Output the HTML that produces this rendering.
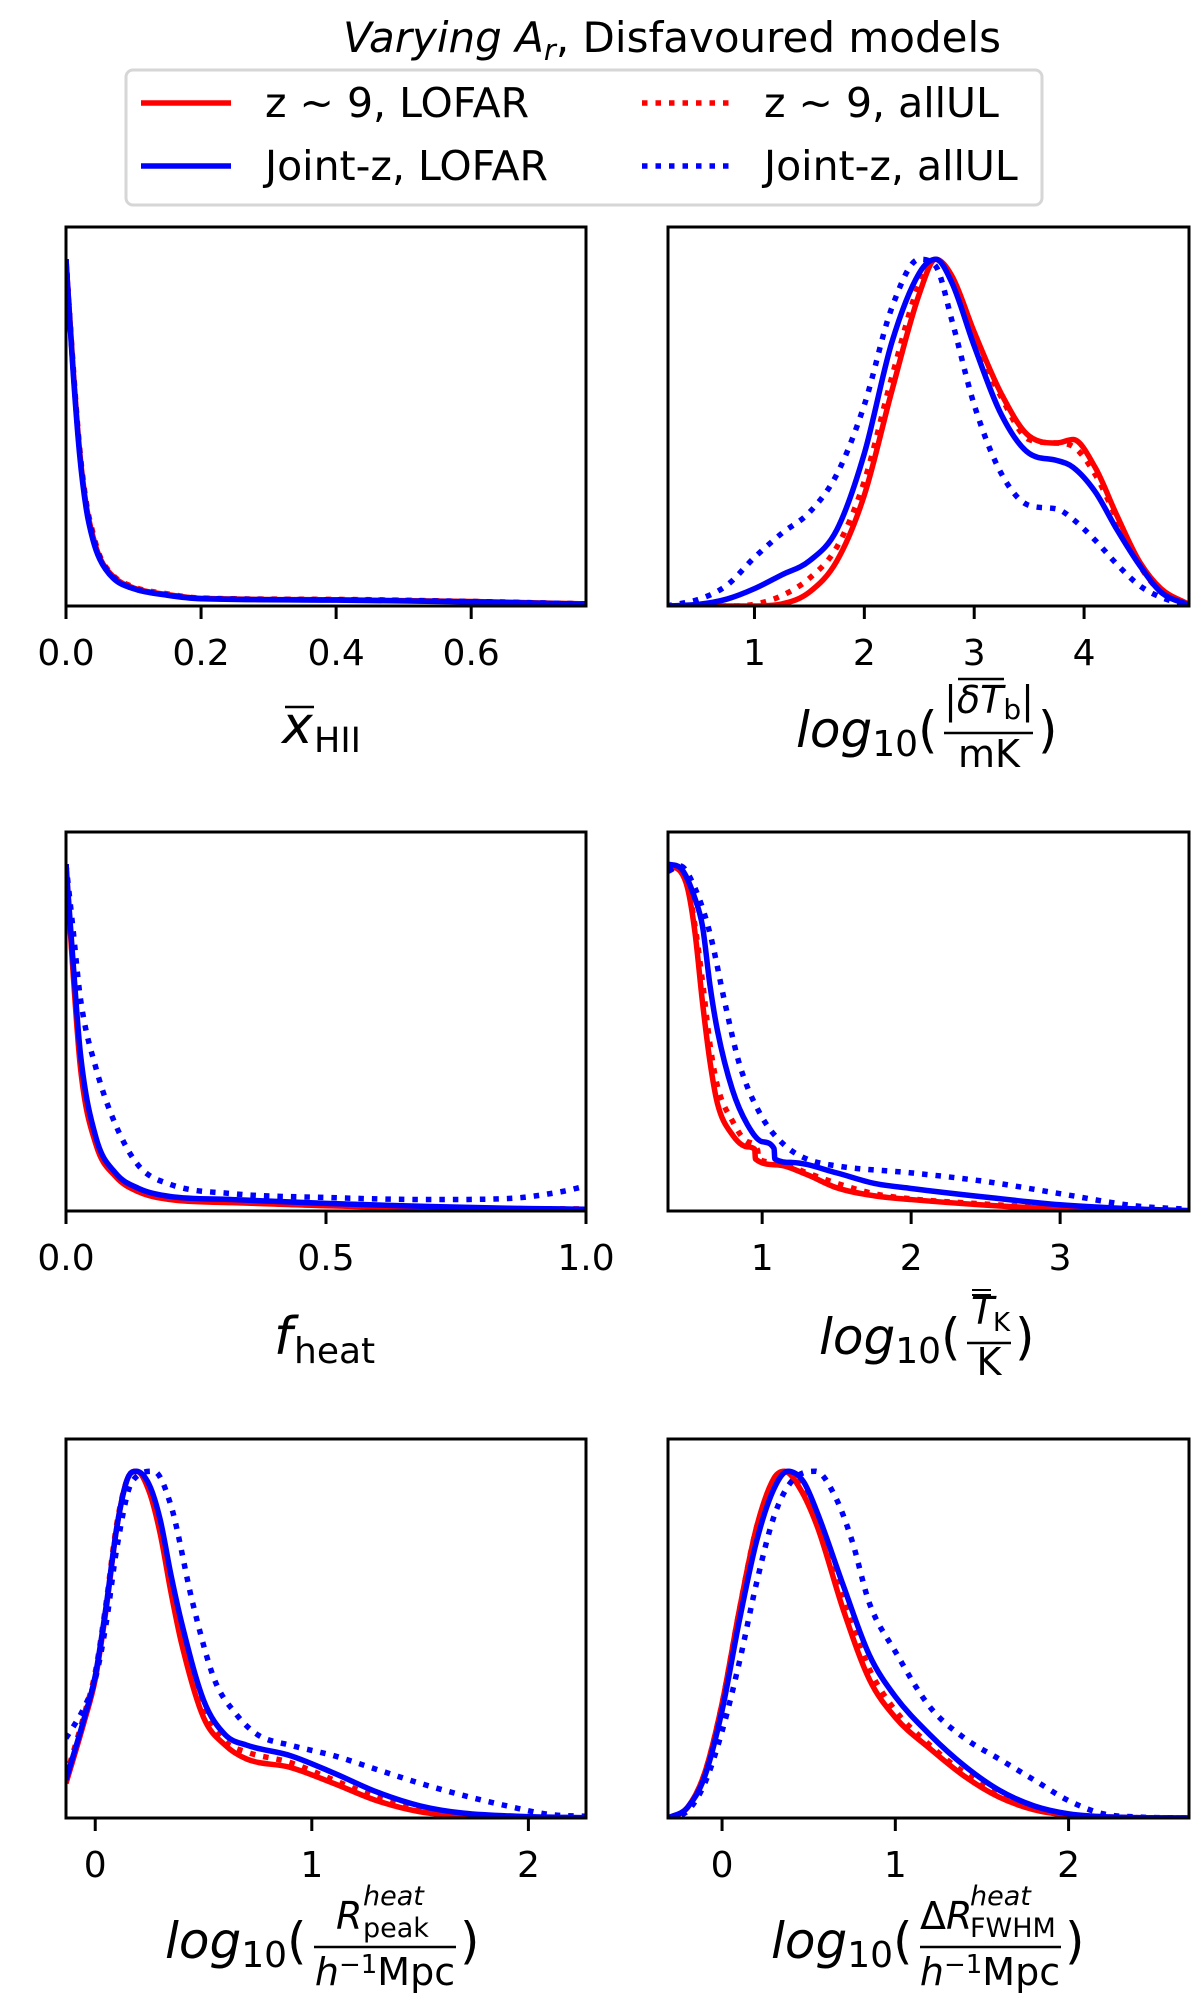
<!DOCTYPE html>
<html><head><meta charset="utf-8">
<style>
html,body{margin:0;padding:0;background:#fff;}
svg{display:block;font-family:"DejaVu Sans","Liberation Sans",sans-serif;}
</style></head>
<body>
<svg id="fig" width="1200" height="2008" viewBox="0 0 1200 2008" xmlns="http://www.w3.org/2000/svg">
  <text x="672" y="52" font-size="42" text-anchor="middle"><tspan font-style="italic">Varying A</tspan><tspan font-style="italic" font-size="29" dy="8">r</tspan><tspan dy="-8">, Disfavoured models</tspan></text>
  <g>
    <rect x="126" y="70" width="916" height="135" rx="7" fill="#fff" stroke="#d6d6d6" stroke-width="3"/>
    <g>
      <line x1="141" y1="103" x2="231" y2="103" stroke="#ff0000" stroke-width="5.5"/>
      <text x="265" y="117" font-size="41">z ~ 9, LOFAR</text>
    </g>
    <g>
      <line x1="141" y1="166" x2="231" y2="166" stroke="#0000ff" stroke-width="5.5"/>
      <text x="265" y="180" font-size="41">Joint-z, LOFAR</text>
    </g>
    <g>
      <line x1="642" y1="103" x2="731" y2="103" stroke="#ff0000" stroke-width="5.5" stroke-dasharray="5.5 8"/>
      <text x="764" y="117" font-size="41">z ~ 9, allUL</text>
    </g>
    <g>
      <line x1="642" y1="166" x2="731" y2="166" stroke="#0000ff" stroke-width="5.5" stroke-dasharray="5.5 8"/>
      <text x="764" y="180" font-size="41">Joint-z, allUL</text>
    </g>
  </g>

  <g>
    <text x="282" y="743" font-size="52" font-style="italic">x</text>
    <line x1="285" y1="707" x2="314" y2="707" stroke="#000" stroke-width="2.5"/>
    <text x="314" y="752" font-size="35">HII</text>
  </g>
  <g>
    <text x="796" y="747" font-size="50"><tspan font-style="italic">log</tspan><tspan font-size="36" dy="9">10</tspan><tspan dy="-9">(</tspan></text>
    <text x="989" y="713" font-size="38" text-anchor="middle">|<tspan font-style="italic">δT</tspan><tspan font-size="28" dy="6">b</tspan><tspan dy="-6">|</tspan></text>
    <line x1="958" y1="679" x2="1004" y2="679" stroke="#000" stroke-width="2.5"/>
    <line x1="944" y1="733" x2="1033" y2="733" stroke="#000" stroke-width="2.5"/>
    <text x="989" y="767" font-size="38" text-anchor="middle">mK</text>
    <text x="1038" y="747" font-size="50">)</text>
  </g>
  <g>
    <text x="274" y="1354" font-size="52" font-style="italic">f</text>
    <text x="294" y="1363" font-size="36">heat</text>
  </g>
  <g>
    <text x="819" y="1354" font-size="50"><tspan font-style="italic">log</tspan><tspan font-size="36" dy="9">10</tspan><tspan dy="-9">(</tspan></text>
    <text x="971" y="1324" font-size="38" font-style="italic">T</text>
    <text x="993" y="1331" font-size="26">K</text>
    <line x1="972" y1="1290" x2="991" y2="1290" stroke="#000" stroke-width="2"/>
    <line x1="972" y1="1295" x2="991" y2="1295" stroke="#000" stroke-width="2"/>
    <line x1="967" y1="1343" x2="1011" y2="1343" stroke="#000" stroke-width="2.5"/>
    <text x="989" y="1375" font-size="38" text-anchor="middle">K</text>
    <text x="1015" y="1354" font-size="50">)</text>
  </g>
  <g>
    <text x="165" y="1958" font-size="50"><tspan font-style="italic">log</tspan><tspan font-size="36" dy="9">10</tspan><tspan dy="-9">(</tspan></text>
    <text x="336" y="1929" font-size="38" font-style="italic">R</text>
    <text x="363" y="1905" font-size="27" font-style="italic">heat</text>
    <text x="363" y="1937" font-size="27">peak</text>
    <line x1="314" y1="1947" x2="456" y2="1947" stroke="#000" stroke-width="2.5"/>
    <text x="385" y="1985" font-size="38" text-anchor="middle"><tspan font-style="italic">h</tspan><tspan font-size="26" dy="-12">−1</tspan><tspan dy="12">Mpc</tspan></text>
    <text x="460" y="1958" font-size="50">)</text>
  </g>
  <g>
    <text x="771" y="1958" font-size="50"><tspan font-style="italic">log</tspan><tspan font-size="36" dy="9">10</tspan><tspan dy="-9">(</tspan></text>
    <text x="920" y="1929" font-size="38"><tspan>Δ</tspan><tspan font-style="italic">R</tspan></text>
    <text x="970" y="1905" font-size="27" font-style="italic">heat</text>
    <text x="970" y="1937" font-size="27">FWHM</text>
    <line x1="920" y1="1947" x2="1061" y2="1947" stroke="#000" stroke-width="2.5"/>
    <text x="990" y="1985" font-size="38" text-anchor="middle"><tspan font-style="italic">h</tspan><tspan font-size="26" dy="-12">−1</tspan><tspan dy="12">Mpc</tspan></text>
    <text x="1065" y="1958" font-size="50">)</text>
  </g>
  <g id="plots"></g>
</svg>
<script>
const p1_x  = [0,0.01,0.02,0.03,0.04,0.05,0.07,0.1,0.15,0.2,0.4,0.6,0.77];
const p1_rs = [1,0.70,0.45,0.29,0.20,0.14,0.085,0.052,0.033,0.022,0.018,0.013,0.006];
const p1_rd = [1,0.71,0.46,0.30,0.21,0.145,0.088,0.055,0.035,0.023,0.019,0.013,0.006];
const p1_bs = [1,0.69,0.44,0.28,0.19,0.135,0.08,0.05,0.031,0.021,0.017,0.012,0.005];
const p1_bd = [1,0.70,0.45,0.29,0.20,0.14,0.083,0.051,0.032,0.022,0.018,0.013,0.006];
const p2_x  = [0.2,0.5,0.75,1.0,1.25,1.5,1.75,2.0,2.25,2.5,2.65,2.8,3.0,3.25,3.5,3.75,3.9,4.1,4.3,4.5,4.7,4.95];
const p2_rs = [0,0,0,0,0.006,0.04,0.13,0.32,0.62,0.9,1.0,0.95,0.79,0.61,0.49,0.47,0.48,0.40,0.26,0.13,0.05,0.005];
const p2_rd = [0,0,0,0.005,0.03,0.08,0.17,0.36,0.66,0.93,1.0,0.94,0.77,0.60,0.48,0.47,0.46,0.38,0.25,0.12,0.04,0.003];
const p2_bs = [0,0.005,0.02,0.05,0.09,0.13,0.22,0.44,0.76,0.96,1.0,0.93,0.75,0.55,0.44,0.42,0.40,0.33,0.22,0.12,0.04,0.003];
const p2_bd = [0,0.02,0.06,0.14,0.21,0.27,0.38,0.58,0.86,1.0,0.98,0.82,0.58,0.38,0.29,0.28,0.25,0.19,0.12,0.06,0.025,0.002];
const p3_x  = [0,0.013,0.028,0.058,0.095,0.14,0.2,0.32,0.5,0.7,0.85,0.95,1.0];
const p3_rs = [1,0.70,0.41,0.19,0.10,0.055,0.033,0.024,0.015,0.009,0.006,0.005,0.005];
const p3_rd = [1,0.71,0.42,0.20,0.105,0.058,0.035,0.025,0.016,0.010,0.007,0.006,0.006];
const p3_bs = [1,0.73,0.45,0.21,0.11,0.065,0.042,0.033,0.022,0.013,0.008,0.006,0.005];
const p3_bd = [1,0.82,0.61,0.41,0.25,0.13,0.077,0.05,0.039,0.033,0.036,0.055,0.072];
const p4_x_r  = [0.37,0.45,0.5,0.55,0.6,0.65,0.7,0.8,0.9,0.95,0.955,1.1,1.3,1.5,1.75,2.0,2.5,3.0,3.86];
const p4_rs   = [0.995,0.98,0.93,0.8,0.6,0.43,0.31,0.22,0.185,0.178,0.15,0.133,0.105,0.067,0.044,0.033,0.017,0.006,0.001];
const p4_x_rd = [0.37,0.45,0.5,0.55,0.6,0.65,0.7,0.8,0.9,0.97,0.975,1.1,1.3,1.5,1.75,2.0,2.5,3.0,3.86];
const p4_rd   = [1,0.985,0.94,0.82,0.66,0.48,0.36,0.26,0.2,0.175,0.15,0.14,0.11,0.08,0.05,0.035,0.02,0.008,0.001];
const p4_x_b  = [0.37,0.45,0.55,0.6,0.65,0.7,0.8,0.9,1.0,1.08,1.085,1.2,1.5,1.75,2.0,2.5,3.0,3.5,3.86];
const p4_bs   = [1,0.99,0.9,0.82,0.65,0.52,0.35,0.25,0.2,0.18,0.15,0.14,0.11,0.08,0.065,0.04,0.018,0.006,0.001];
const p4_x_bd = [0.37,0.45,0.55,0.65,0.75,0.85,1.0,1.15,1.3,1.5,2.0,2.5,3.0,3.5,3.86];
const p4_bd   = [0.98,0.995,0.93,0.8,0.6,0.42,0.27,0.19,0.15,0.13,0.11,0.085,0.05,0.015,0.005];
const p5_x  = [-0.135,-0.05,0,0.05,0.1,0.15,0.19,0.25,0.3,0.35,0.4,0.5,0.6,0.7,0.9,1.1,1.3,1.5,1.7,2.0,2.27];
const p5_rs = [0.1,0.28,0.4,0.6,0.84,0.98,1.0,0.94,0.82,0.65,0.5,0.29,0.21,0.17,0.146,0.1,0.05,0.018,0.006,0.002,0];
const p5_rd = [0.12,0.3,0.42,0.62,0.85,0.98,1.0,0.95,0.84,0.67,0.53,0.31,0.22,0.19,0.16,0.11,0.06,0.024,0.008,0.002,0];
const p5_bs = [0.11,0.29,0.41,0.61,0.84,0.98,1.0,0.96,0.86,0.7,0.56,0.34,0.24,0.21,0.18,0.13,0.075,0.035,0.014,0.004,0.001];
const p5_x_bd = [-0.135,-0.05,0,0.05,0.1,0.17,0.27,0.35,0.45,0.55,0.65,0.75,0.9,1.1,1.3,1.5,1.7,1.9,2.1,2.27];
const p5_bd = [0.23,0.32,0.4,0.56,0.78,0.97,1.0,0.9,0.62,0.4,0.3,0.24,0.21,0.18,0.14,0.1,0.065,0.035,0.01,0.005];
const p6_x  = [-0.31,-0.2,-0.1,0,0.1,0.2,0.3,0.36,0.45,0.55,0.7,0.85,1.0,1.2,1.4,1.6,1.8,2.0,2.3,2.7];
const p6_rs = [0,0.03,0.13,0.33,0.6,0.84,0.98,1.0,0.95,0.84,0.6,0.4,0.29,0.2,0.12,0.06,0.024,0.008,0.001,0];
const p6_rd = [0,0.03,0.13,0.33,0.6,0.84,0.97,1.0,0.96,0.86,0.63,0.43,0.31,0.21,0.13,0.07,0.03,0.01,0.002,0];
const p6_x_b = [-0.31,-0.2,-0.1,0,0.1,0.2,0.3,0.38,0.47,0.55,0.7,0.85,1.0,1.2,1.4,1.6,1.8,2.0,2.3,2.7];
const p6_bs = [0,0.03,0.12,0.31,0.57,0.8,0.95,1.0,0.97,0.88,0.67,0.47,0.35,0.24,0.15,0.08,0.035,0.012,0.002,0];
const p6_x_bd = [-0.31,-0.2,-0.1,0,0.1,0.2,0.3,0.4,0.54,0.65,0.75,0.85,1.0,1.2,1.4,1.6,1.8,2.0,2.2,2.4,2.7];
const p6_bd = [0,0.02,0.1,0.25,0.45,0.68,0.87,0.97,1.0,0.93,0.8,0.62,0.48,0.32,0.23,0.17,0.11,0.05,0.012,0.003,0];
const p1_ticks = [0,0.2,0.4,0.6];  const p1_tickLabels = ["0.0","0.2","0.4","0.6"];
const p2_ticks = [1,2,3,4];        const p2_tickLabels = ["1","2","3","4"];
const p3_ticks = [0,0.5,1];        const p3_tickLabels = ["0.0","0.5","1.0"];
const p4_ticks = [1,2,3];          const p4_tickLabels = ["1","2","3"];
const p5_ticks = [0,1,2];          const p5_tickLabels = ["0","1","2"];
const p6_ticks = [0,1,2];          const p6_tickLabels = ["0","1","2"];

const YMAX = 1.093;
const RED = "#ff0000", BLUE = "#0000ff";
const panels = [
  {name:"xhii", L:66, R:586, T:227, B:606, xmin:0, xmax:0.77, ticks:p1_ticks, labels:p1_tickLabels,
   series:[[p1_x,p1_rs,RED,false],[p1_x,p1_rd,RED,true],[p1_x,p1_bs,BLUE,false],[p1_x,p1_bd,BLUE,true]]},
  {name:"dtb", L:668, R:1189, T:227, B:606, xmin:0.213, xmax:4.955, ticks:p2_ticks, labels:p2_tickLabels,
   series:[[p2_x,p2_rs,RED,false],[p2_x,p2_rd,RED,true],[p2_x,p2_bs,BLUE,false],[p2_x,p2_bd,BLUE,true]]},
  {name:"fheat", L:66, R:586, T:832, B:1211, xmin:0, xmax:1.0, ticks:p3_ticks, labels:p3_tickLabels,
   series:[[p3_x,p3_rs,RED,false],[p3_x,p3_rd,RED,true],[p3_x,p3_bs,BLUE,false],[p3_x,p3_bd,BLUE,true]]},
  {name:"tk", L:668, R:1189, T:832, B:1211, xmin:0.368, xmax:3.865, ticks:p4_ticks, labels:p4_tickLabels,
   series:[[p4_x_r,p4_rs,RED,false],[p4_x_rd,p4_rd,RED,true],[p4_x_b,p4_bs,BLUE,false],[p4_x_bd,p4_bd,BLUE,true]]},
  {name:"rpeak", L:66, R:586, T:1439, B:1818, xmin:-0.135, xmax:2.266, ticks:p5_ticks, labels:p5_tickLabels,
   series:[[p5_x,p5_rs,RED,false],[p5_x,p5_rd,RED,true],[p5_x,p5_bs,BLUE,false],[p5_x_bd,p5_bd,BLUE,true]]},
  {name:"rfwhm", L:668, R:1189, T:1439, B:1818, xmin:-0.312, xmax:2.695, ticks:p6_ticks, labels:p6_tickLabels,
   series:[[p6_x,p6_rs,RED,false],[p6_x,p6_rd,RED,true],[p6_x_b,p6_bs,BLUE,false],[p6_x_bd,p6_bd,BLUE,true]]}
];
const NS = "http://www.w3.org/2000/svg";
const root = document.getElementById("plots");
function mk(tag, attrs, parent){ const e=document.createElementNS(NS,tag); for(const k in attrs) e.setAttribute(k,attrs[k]); parent.appendChild(e); return e; }

function monoPath(px, py){
  const n=px.length; if(n<2) return "";
  const d=[], m=new Array(n);
  for(let i=0;i<n-1;i++){ const dx=px[i+1]-px[i]; d.push(dx===0?0:(py[i+1]-py[i])/dx); }
  m[0]=d[0]; m[n-1]=d[n-2];
  for(let i=1;i<n-1;i++){ m[i]=(d[i-1]*d[i]<=0)?0:(d[i-1]+d[i])/2; }
  for(let i=0;i<n-1;i++){ if(d[i]===0){m[i]=0;m[i+1]=0;continue;} const a=m[i]/d[i], b=m[i+1]/d[i], s=a*a+b*b; if(s>9){const t=3/Math.sqrt(s); m[i]=t*a*d[i]; m[i+1]=t*b*d[i];} }
  let p="M"+px[0].toFixed(2)+","+py[0].toFixed(2);
  for(let i=0;i<n-1;i++){ const h=(px[i+1]-px[i])/3;
    p+=" C"+(px[i]+h).toFixed(2)+","+(py[i]+m[i]*h).toFixed(2)+" "+(px[i+1]-h).toFixed(2)+","+(py[i+1]-m[i+1]*h).toFixed(2)+" "+px[i+1].toFixed(2)+","+py[i+1].toFixed(2); }
  return p;
}

panels.forEach(P=>{
  const g=mk("g",{},root);
  
  
  const sx=v=>P.L+(v-P.xmin)/(P.xmax-P.xmin)*(P.R-P.L);
  const sy=v=>P.B-v/YMAX*(P.B-P.T);
  const cid="clip-"+P.name;
  const cp=mk("clipPath",{id:cid},g); mk("rect",{x:P.L,y:P.T,width:P.R-P.L,height:P.B-P.T},cp);
  const lines=mk("g",{"clip-path":"url(#"+cid+")"},g);
  const names=["z9-lofar","z9-allul","jointz-lofar","jointz-allul"];
  P.series.forEach((s,i)=>{
    const [xs,ys,col,dot]=s;
    const path=mk("path",{d:monoPath(xs.map(sx),ys.map(sy)),fill:"none",stroke:col,"stroke-width":5.5,"stroke-linejoin":"round"},lines);
    if(dot) path.setAttribute("stroke-dasharray","5.5 8");
    
    
  });
  const fr=mk("rect",{x:P.L,y:P.T,width:P.R-P.L,height:P.B-P.T,fill:"none",stroke:"#000","stroke-width":3},g);
  
  
  P.ticks.forEach((t,i)=>{
    const x=sx(t);
    const tk=mk("line",{x1:x,y1:P.B,x2:x,y2:P.B+13,stroke:"#000","stroke-width":3},g);
    
    
    const tl=mk("text",{x:x,y:P.B+59,"font-size":36,"text-anchor":"middle"},g);
    tl.textContent=P.labels[i];
    
    
  });
});
</script>
</body></html>
